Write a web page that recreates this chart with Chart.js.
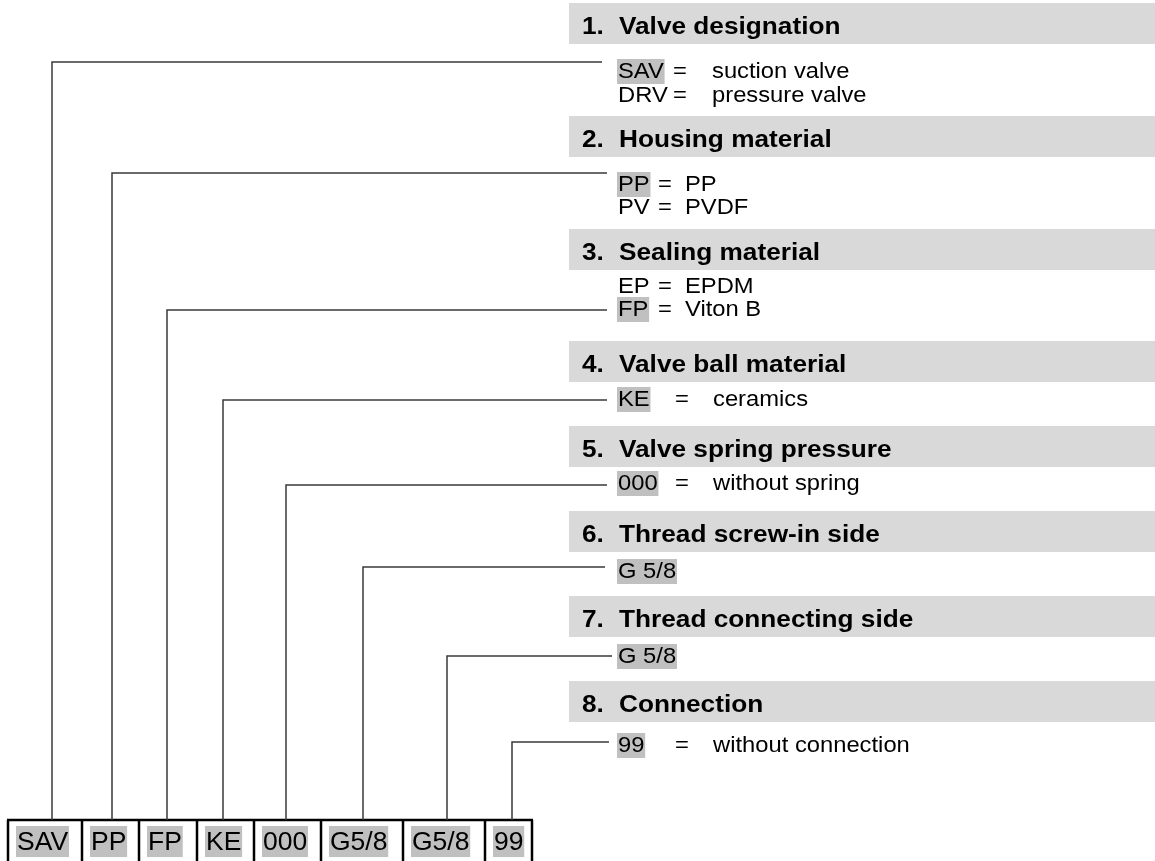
<!DOCTYPE html>
<html>
<head>
<meta charset="utf-8">
<script src="https://cdn.jsdelivr.net/npm/chart.js@4.4.0/dist/chart.umd.min.js"></script>
<style>
  html, body { margin: 0; padding: 0; background: #fff; }
  #wrap { width: 1155px; height: 861px; }
</style>
</head>
<body>
<div id="wrap"><canvas id="chart" width="1155" height="861"></canvas></div>
<script>
// ordering key: sections, their options and the example code
const sectionTitles = ["Valve designation", "Housing material", "Sealing material", "Valve ball material",
  "Valve spring pressure", "Thread screw-in side", "Thread connecting side", "Connection"];
const optionCodes = [["SAV", "DRV"], ["PP", "PV"], ["EP", "FP"], ["KE"], ["000"], ["G 5/8"], ["G 5/8"], ["99"]];
const optionTexts = [["suction valve", "pressure valve"], ["PP", "PVDF"], ["EPDM", "Viton B"], ["ceramics"],
  ["without spring"], [""], [""], ["without connection"]];
const pickedOption = [0, 0, 1, 0, 0, 0, 0, 0];
const codeParts = ["SAV", "PP", "FP", "KE", "000", "G5/8", "G5/8", "99"];

// layout, in canvas units (y grows downward)
const W = 1155, H = 861;
const headTop = [3, 116, 229, 341, 426, 511, 596, 681];
const headH = 41;
const optBase = [[78, 102], [191, 214], [293, 316], [406], [490], [578], [663], [752]];
const eqX = [673, 658, 658, 675, 675, null, null, 675];
const descX = [712, 685, 685, 713, 713, null, null, 713];
const leadY = [62, 173, 310, 400, 485, 567, 656, 742];
const leadEnd = [602, 607, 607, 607, 607, 605, 612, 609];
const leadX = [52, 112, 167, 223, 286, 363, 447, 512];
const boxEdges = [8, 82, 139, 197, 254, 321, 403, 485, 532];
const boxTop = 820;
const codeX = 618;

const FAMILY = "'Liberation Sans', Arial, Helvetica, sans-serif";
const headFont = { font: "bold 23px " + FAMILY, sx: 1.14 };
const optFont = { font: "22px " + FAMILY, sx: 1.08 };
const boxFont = { font: "25px " + FAMILY, sx: 1.06 };

const mctx = document.createElement("canvas").getContext("2d");
function textW(s, f) {
  mctx.font = f.font;
  return mctx.measureText(s).width * f.sx;
}

function rect(x0, x1, top, bottom, color) {
  return {
    data: [{ x: x0, y: top }, { x: x1, y: top }],
    fill: { target: { value: bottom } },
    backgroundColor: color,
    borderColor: "rgba(0,0,0,0)",
    borderWidth: 0,
    pointRadius: 0
  };
}

function path(points, color, width) {
  return { data: points, fill: false, borderColor: color, borderWidth: width, pointRadius: 0 };
}

const datasets = [];

// grey header bars
headTop.forEach(t => datasets.push(rect(569, W, t, t + headH, "#d9d9d9")));

// highlight of the chosen option in each section
optionCodes.forEach((codes, s) => {
  const k = pickedOption[s];
  const b = optBase[s][k];
  const w = textW(codes[k], optFont);
  datasets.push(rect(codeX - 1, codeX + w + 1, b - 19, b + 6, "#c0c0c0"));
});

// highlight behind the parts of the example code
codeParts.forEach((c, i) => {
  const x0 = boxEdges[i] + 9;
  datasets.push(rect(x0 - 1, x0 + textW(c, boxFont) + 1, 826, 857, "#c0c0c0"));
});

// leader lines from each code part to its section
leadX.forEach((lx, i) => {
  datasets.push(path([{ x: lx, y: boxTop }, { x: lx, y: leadY[i] }, { x: leadEnd[i], y: leadY[i] }], "#3a3a3a", 1.5));
});

// code boxes
datasets.push(path([{ x: boxEdges[0] - 1, y: boxTop }, { x: boxEdges[boxEdges.length - 1] + 1, y: boxTop }], "#000", 2.5));
boxEdges.forEach(e => datasets.push(path([{ x: e, y: boxTop }, { x: e, y: H }], "#000", 2.5)));

const textPlugin = {
  id: "keyText",
  afterDatasetsDraw(chart) {
    const { ctx, scales: { x, y } } = chart;
    const put = (s, vx, vy, f) => {
      ctx.save();
      ctx.font = f.font;
      ctx.fillStyle = "#000";
      ctx.textBaseline = "alphabetic";
      ctx.translate(x.getPixelForValue(vx), y.getPixelForValue(vy));
      ctx.scale(f.sx, 1);
      ctx.fillText(s, 0, 0);
      ctx.restore();
    };
    sectionTitles.forEach((t, s) => {
      const base = headTop[s] + 31;
      put((s + 1) + ".", 582, base, headFont);
      put(t, 619, base, headFont);
      optionCodes[s].forEach((c, k) => {
        const b = optBase[s][k];
        put(c, codeX, b, optFont);
        if (optionTexts[s][k]) {
          put("=", eqX[s], b, optFont);
          put(optionTexts[s][k], descX[s], b, optFont);
        }
      });
    });
    codeParts.forEach((c, i) => put(c, boxEdges[i] + 9, 850, boxFont));
  }
};

new Chart(document.getElementById("chart"), {
  type: "line",
  data: { datasets: datasets },
  options: {
    responsive: false,
    animation: false,
    events: [],
    layout: { padding: 0 },
    elements: { line: { tension: 0 } },
    scales: {
      x: { type: "linear", min: 0, max: W, display: false },
      y: { type: "linear", min: 0, max: H, reverse: true, display: false }
    },
    plugins: { legend: { display: false }, tooltip: { enabled: false } }
  },
  plugins: [textPlugin]
});
</script>
</body>
</html>
